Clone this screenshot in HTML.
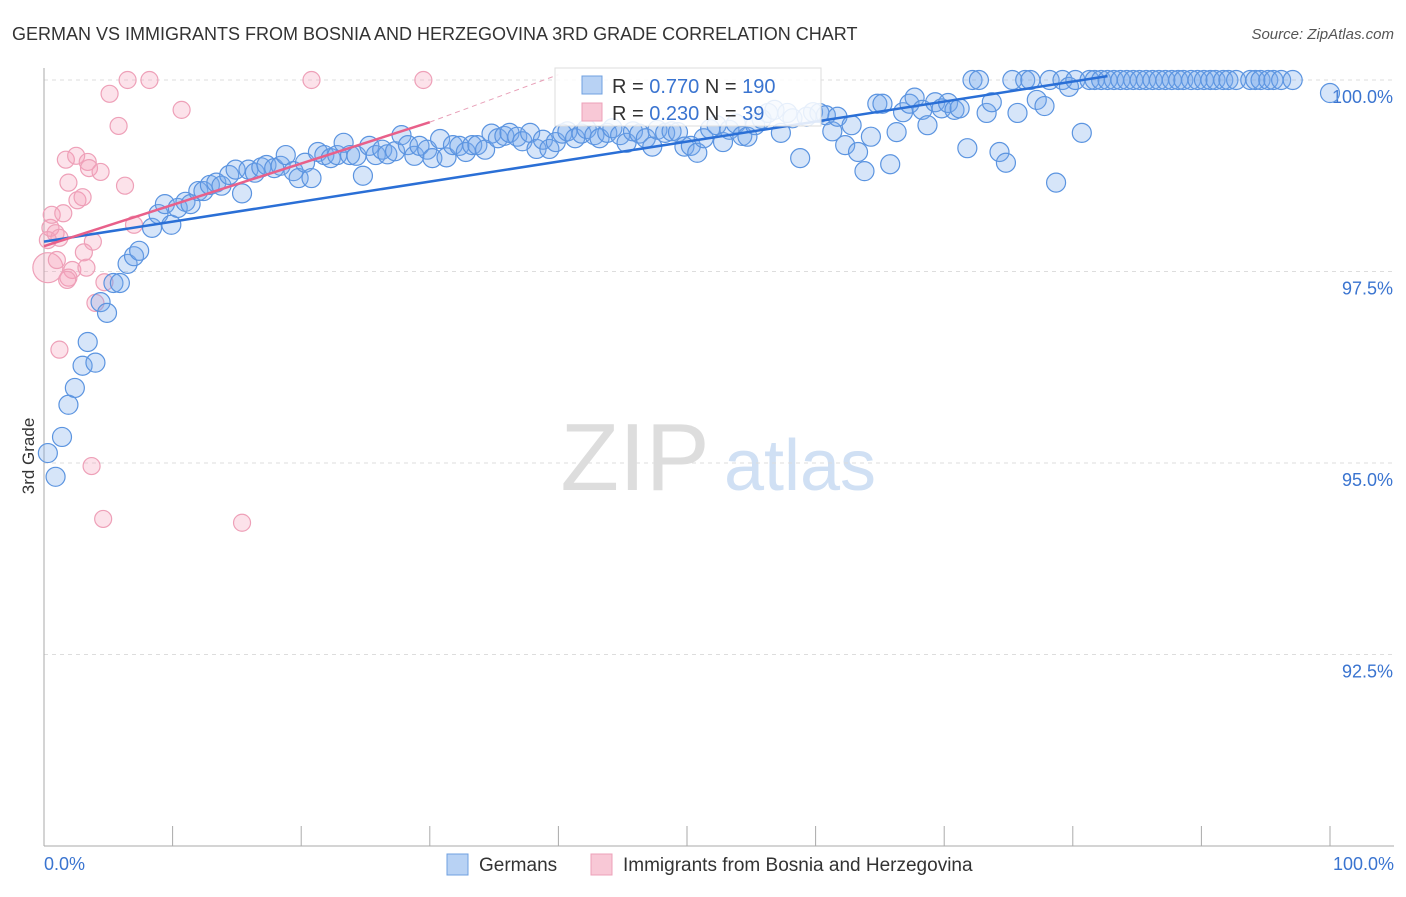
<!DOCTYPE html>
<html><head><meta charset="utf-8"><style>
body{margin:0;background:#fff;font-family:"Liberation Sans",sans-serif;}
svg text{font-family:"Liberation Sans",sans-serif;}
</style></head><body>
<svg id="chart" width="1406" height="892" xmlns="http://www.w3.org/2000/svg">
<text x="12" y="40" font-size="18" fill="#333">GERMAN VS IMMIGRANTS FROM BOSNIA AND HERZEGOVINA 3RD GRADE CORRELATION CHART</text>
<text x="1394" y="39" font-size="15" fill="#555" font-style="italic" text-anchor="end">Source: ZipAtlas.com</text>
<text x="0" y="0" transform="translate(34,456) rotate(-90)" font-size="17" fill="#333" text-anchor="middle">3rd Grade</text>
<g><text x="635" y="490" font-size="96" fill="#ddd" font-family="Liberation Serif" text-anchor="middle">ZIP</text><text x="800" y="490" font-size="72" fill="#d0e0f4" text-anchor="middle">atlas</text></g>
<g id="grid"></g><g id="axes"></g><g id="pts"></g><g id="trend"></g>
<g>
<rect x="555" y="68" width="266" height="58" fill="#fff" fill-opacity="0.85" stroke="#ddd"/>
<rect x="582" y="76" width="20" height="18" fill="#b8d2f4" stroke="#6fa0e0"/>
<text x="612" y="93" font-size="20" fill="#333">R = <tspan fill="#3a74d0">0.770</tspan>   N = <tspan fill="#3a74d0">190</tspan></text>
<rect x="582" y="103" width="20" height="18" fill="#f8c8d6" stroke="#eda0b8"/>
<text x="612" y="120" font-size="20" fill="#333">R = <tspan fill="#3a74d0">0.230</tspan>   N = <tspan fill="#3a74d0"> 39</tspan></text>
</g>
<g>
<rect x="447" y="854" width="21" height="21" fill="#b8d2f4" stroke="#6fa0e0"/>
<text x="479" y="871" font-size="19" fill="#333">Germans</text>
<rect x="591" y="854" width="21" height="21" fill="#f8c8d6" stroke="#eda0b8"/>
<text x="623" y="871" font-size="19" fill="#333">Immigrants from Bosnia and Herzegovina</text>
</g>
</svg>
<script>
const yTicks=[92.5,95,97.5,100];
const yTickLabels=["92.5%","95.0%","97.5%","100.0%"];
const xTickLabels=["0.0%","100.0%"];
const blueX=[0.3,0.9,1.4,1.9,2.4,3.0,4.0,3.4,4.4,4.9,5.4,5.9,6.5,7.0,7.4,8.4,8.9,9.9,9.4,10.4,11.0,11.4,12.0,12.4,12.9,13.4,13.8,14.4,14.9,15.4,15.9,16.4,16.9,17.3,17.9,18.4,18.8,19.4,19.8,20.3,20.8,21.3,21.8,22.3,22.8,23.3,23.8,24.3,24.8,25.3,25.8,26.3,26.7,27.3,27.8,28.3,28.8,29.2,29.8,30.2,30.8,31.3,31.8,32.3,32.8,33.3,33.7,34.3,34.8,35.3,35.8,36.2,36.8,37.2,37.8,38.3,38.8,39.3,39.8,40.3,40.7,41.3,41.8,42.2,42.8,43.2,43.8,44.2,44.8,45.3,45.8,46.3,46.8,47.3,47.7,48.3,48.8,49.3,49.8,50.3,50.8,51.3,51.8,52.3,52.8,53.3,53.8,54.3,54.7,55.3,55.8,56.3,56.8,57.3,57.8,58.2,58.8,59.3,59.8,60.3,60.8,61.3,61.7,62.3,62.8,63.3,63.8,64.3,64.8,65.2,65.8,66.3,66.8,67.3,67.7,68.3,68.7,69.3,69.8,70.3,70.8,71.2,71.8,72.2,72.7,73.3,73.7,74.3,74.8,75.3,75.7,76.3,76.7,77.2,77.8,78.2,78.7,79.2,79.7,80.2,80.7,81.3,81.7,82.2,82.7,83.2,83.7,84.2,84.7,85.2,85.7,86.2,86.7,87.2,87.7,88.2,88.6,89.2,89.7,90.2,90.7,91.1,91.7,92.1,92.7,93.8,94.2,94.6,95.2,95.6,96.2,97.1,100];
const blueY=[95.13,94.82,95.34,95.76,95.98,96.27,96.31,96.58,97.10,96.96,97.35,97.35,97.60,97.70,97.77,98.07,98.25,98.11,98.38,98.33,98.41,98.38,98.55,98.55,98.63,98.66,98.62,98.76,98.83,98.52,98.83,98.79,98.86,98.89,98.85,98.88,99.02,98.81,98.72,98.92,98.72,99.06,99.02,98.98,99.02,99.18,99.02,99.01,98.75,99.14,99.02,99.09,99.03,99.07,99.28,99.15,99.01,99.14,99.09,98.98,99.23,98.99,99.15,99.14,99.06,99.15,99.15,99.09,99.30,99.24,99.27,99.31,99.26,99.20,99.31,99.10,99.22,99.10,99.19,99.30,99.33,99.24,99.30,99.36,99.28,99.24,99.31,99.37,99.28,99.18,99.33,99.30,99.24,99.13,99.35,99.31,99.33,99.32,99.13,99.14,99.05,99.24,99.36,99.41,99.19,99.35,99.43,99.27,99.26,99.41,99.49,99.57,99.61,99.31,99.57,99.50,98.98,99.52,99.58,99.57,99.54,99.33,99.52,99.15,99.41,99.06,98.81,99.26,99.69,99.69,98.90,99.32,99.58,99.69,99.77,99.61,99.41,99.71,99.63,99.70,99.61,99.63,99.11,100,100,99.57,99.71,99.06,98.92,100,99.57,100,100,99.74,99.66,100,98.66,100,99.91,100,99.31,100,100,100,100,100,100,100,100,100,100,100,100,100,100,100,100,100,100,100,100,100,100,100,100,100,100,100,100,100,100,100,99.83];
const pinkX=[0.3,0.3,0.5,0.6,0.9,1.0,1.2,1.5,1.7,1.9,2.2,1.9,2.5,2.6,3.0,3.1,3.3,3.4,3.5,3.7,3.8,4.0,4.4,4.6,4.7,5.1,6.5,5.8,6.3,7.0,8.2,10.7,15.4,20.8,29.5,1.2,1.8];
const pinkY=[97.55,97.91,98.07,98.24,98.00,97.65,97.94,98.26,98.96,98.66,97.52,97.42,99.01,98.43,98.47,97.75,97.55,98.93,98.85,94.96,97.89,97.09,98.80,94.27,97.36,99.82,100,99.40,98.62,98.11,100,99.61,94.22,100,100,96.48,97.39];
const blueTrendX=[0,82.7], blueTrendY=[97.89,100.05];
const pinkTrendX=[0,30,40], pinkTrendY=[97.83,99.45,100.07];

const NS="http://www.w3.org/2000/svg";
const X0=44,X1=1330,Y0=846,Y1=80;
const sx=v=>X0+(v/100)*(X1-X0);
const sy=v=>Y0-((v-90)/10)*(Y0-Y1);
function mk(tag,attrs,parent){const e=document.createElementNS(NS,tag);for(const k in attrs)e.setAttribute(k,attrs[k]);parent.appendChild(e);return e;}
const grid=document.getElementById('grid'),axes=document.getElementById('axes'),pts=document.getElementById('pts'),tr=document.getElementById('trend');
yTicks.forEach((t,i)=>{
  const l=mk('line',{x1:X0,x2:1394,y1:sy(t),y2:sy(t),stroke:'#ddd','stroke-dasharray':'4,4'},grid);
  
  
  const tx=mk('text',{x:1393,y:sy(t)+23,'font-size':18,fill:'#3a74d0','text-anchor':'end'},axes);
  tx.textContent=yTickLabels[i];
  
  
});
const ya=mk('line',{x1:X0,x2:X0,y1:68,y2:846,stroke:'#aaa'},axes);


const xa=mk('line',{x1:X0,x2:1394,y1:846,y2:846,stroke:'#aaa'},axes);


for(let i=0;i<=10;i++){const t=mk('line',{x1:sx(i*10),x2:sx(i*10),y1:826,y2:846,stroke:'#aaa'},axes);
  
  }
[[0,44,'start'],[1,1394,'end']].forEach(([i,x,a])=>{const t=mk('text',{x:x,y:870,'font-size':18,fill:'#3a74d0','text-anchor':a},axes);t.textContent=xTickLabels[i];
  
  });
pinkX.forEach((v,i)=>{const c=mk('circle',{cx:sx(v),cy:sy(pinkY[i]),r:i==0?15:8.5,fill:'rgba(244,160,186,0.3)',stroke:'#eea0b8','stroke-width':1.2},pts);
  
  });
blueX.forEach((v,i)=>{const c=mk('circle',{cx:sx(v),cy:sy(blueY[i]),r:9.5,fill:'rgba(120,170,235,0.3)',stroke:'#5b94e0','stroke-width':1.2},pts);
  
  });
const bl=mk('line',{x1:sx(blueTrendX[0]),y1:sy(blueTrendY[0]),x2:sx(blueTrendX[1]),y2:sy(blueTrendY[1]),stroke:'#2a6fd6','stroke-width':2.5},tr);


const pl=mk('line',{x1:sx(pinkTrendX[0]),y1:sy(pinkTrendY[0]),x2:sx(pinkTrendX[1]),y2:sy(pinkTrendY[1]),stroke:'#e8608a','stroke-width':2.5},tr);


const pd=mk('line',{x1:sx(pinkTrendX[1]),y1:sy(pinkTrendY[1]),x2:sx(pinkTrendX[2]),y2:sy(pinkTrendY[2]),stroke:'#e8a0b8','stroke-width':1,'stroke-dasharray':'5,4'},tr);


</script>
</body></html>
